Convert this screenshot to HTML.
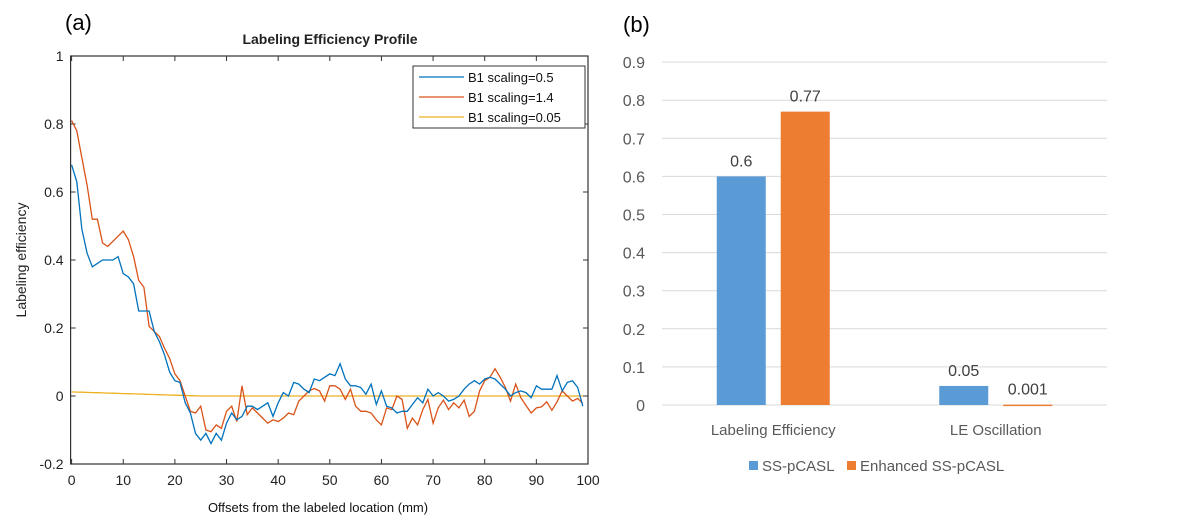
<!DOCTYPE html>
<html><head><meta charset="utf-8"><style>
body{margin:0;background:#fff;width:1192px;height:525px;overflow:hidden;font-family:"Liberation Sans",sans-serif}
svg{position:absolute;left:0;top:0}
</style></head><body>
<svg width="1192" height="525">
<g id="left"></g>
<g id="right"></g>
</svg>
<script>
const blue=[0.68,0.63,0.49,0.42,0.38,0.39,0.40,0.40,0.40,0.41,0.36,0.35,0.33,0.25,0.25,0.25,0.19,0.16,0.12,0.07,0.045,0.04,-0.02,-0.05,-0.11,-0.13,-0.11,-0.14,-0.11,-0.13,-0.08,-0.05,-0.07,-0.06,-0.03,-0.03,-0.04,-0.03,-0.02,-0.06,-0.02,0.01,0.0,0.04,0.035,0.02,0.01,0.05,0.045,0.055,0.065,0.06,0.095,0.05,0.03,0.03,0.025,0.005,0.035,-0.025,0.015,-0.03,-0.035,-0.05,-0.045,-0.045,-0.025,-0.005,-0.02,0.02,0.0,0.01,0.0,-0.015,-0.01,0.0,0.02,0.035,0.045,0.035,0.05,0.055,0.05,0.035,0.02,0.0,0.01,0.015,0.01,-0.005,0.03,0.02,0.02,0.02,0.06,0.015,0.04,0.045,0.025,-0.03];
const orange=[0.81,0.78,0.70,0.62,0.52,0.52,0.45,0.44,0.455,0.47,0.485,0.46,0.41,0.34,0.32,0.205,0.19,0.175,0.14,0.11,0.065,0.045,0.0,-0.045,-0.05,-0.03,-0.1,-0.105,-0.085,-0.095,-0.045,-0.03,-0.075,0.03,-0.055,-0.035,-0.05,-0.065,-0.08,-0.07,-0.075,-0.065,-0.05,-0.055,-0.015,0.0,0.015,0.022,0.015,-0.015,0.03,0.03,0.02,-0.01,0.02,-0.03,-0.045,-0.045,-0.05,-0.07,-0.085,-0.035,-0.04,0.0,-0.01,-0.095,-0.065,-0.085,-0.04,-0.01,-0.08,-0.035,-0.012,-0.04,-0.02,-0.035,-0.012,-0.06,-0.045,0.015,0.045,0.055,0.08,0.055,0.025,-0.015,0.035,-0.005,-0.028,-0.05,-0.035,-0.032,-0.017,-0.042,-0.017,0.015,0.0,-0.015,-0.007,-0.022];
const yellowStart=0.012, yellowDecayEnd=25;
const xTicks=[0,10,20,30,40,50,60,70,80,90,100];
const yTicks=[-0.2,0,0.2,0.4,0.6,0.8,1];
const legendLabels=["B1 scaling=0.5","B1 scaling=1.4","B1 scaling=0.05"];
const barCats=["Labeling Efficiency","LE Oscillation"];
const ssVals=[0.6,0.05];
const enhVals=[0.77,0.001];
const ssLabels=["0.6","0.05"];
const enhLabels=["0.77","0.001"];
const barTicks=[0,0.1,0.2,0.3,0.4,0.5,0.6,0.7,0.8,0.9];

const NS="http://www.w3.org/2000/svg";
function mk(p,tag,at,txt){const e=document.createElementNS(NS,tag);for(const k in at)e.setAttribute(k,at[k]);if(txt!==undefined)e.textContent=txt;p.appendChild(e);return e;}
const L=document.getElementById('left'),R=document.getElementById('right');
const X0=71.6,X1=588,Y0=56,Y1=464;
const xs=v=>X0+(X1-X0)*v/100, ys=v=>Y1-(Y1-Y0)*(v+0.2)/1.2;
let t;
t=mk(L,'text',{x:65,y:30,'font-size':22,fill:'#000'},'(a)');

t=mk(L,'text',{x:330,y:44,'font-size':14,'font-weight':'bold','text-anchor':'middle',fill:'#222'},'Labeling Efficiency Profile');

xTicks.forEach(v=>{const x=xs(v);mk(L,'line',{x1:x,x2:x,y1:Y1,y2:Y1-5,stroke:'#333'});mk(L,'line',{x1:x,x2:x,y1:Y0,y2:Y0+5,stroke:'#333'});
 t=mk(L,'text',{x:x,y:Y1+21,'font-size':14,'text-anchor':'middle',fill:'#222'},String(v));});
yTicks.forEach(v=>{const y=ys(v);mk(L,'line',{x1:X0-1,x2:X0+4,y1:y,y2:y,stroke:'#333'});mk(L,'line',{x1:X1,x2:X1-5,y1:y,y2:y,stroke:'#333'});
 t=mk(L,'text',{x:X0-8,y:y+5,'font-size':14,'text-anchor':'end',fill:'#222'},String(Math.round(v*10)/10));});
t=mk(L,'text',{x:0,y:0,'font-size':14,'text-anchor':'middle',fill:'#222',transform:'translate(26,260) rotate(-90)'},'Labeling efficiency');

t=mk(L,'text',{x:318,y:512,'font-size':13,'text-anchor':'middle',fill:'#111'},'Offsets from the labeled location (mm)');

function line(arr,col,name){const d=arr.map((v,i)=>(i?'L':'M')+xs(i).toFixed(1)+','+ys(v).toFixed(1)).join('');const p=mk(L,'path',{d:d,fill:'none',stroke:col,'stroke-width':1.3});}
const yellow=blue.map((_,i)=>i<yellowDecayEnd?yellowStart*(1-i/yellowDecayEnd):0);
line(yellow,'#edb120','line-b1-0-05');
line(orange,'#d95319','line-b1-1-4');
line(blue,'#0072bd','line-b1-0-5');
t=mk(L,'rect',{x:X0-1,y:Y0,width:X1-X0+1,height:Y1-Y0,fill:'none',stroke:'#333','stroke-width':1.2});
const lg=mk(L,'g',{});
mk(lg,'rect',{x:413,y:66,width:172,height:62,fill:'#fff',stroke:'#333'});
['#0072bd','#d95319','#edb120'].forEach((c,i)=>{const y=77+i*20;mk(lg,'line',{x1:419,x2:464,y1:y,y2:y,stroke:c,'stroke-width':1.3});
 t=mk(lg,'text',{x:468,y:y+5,'font-size':13,fill:'#111'},legendLabels[i]);});

// right
const bx0=662,bx1=1107,by=v=>405-v*381;
t=mk(R,'text',{x:623,y:32,'font-size':22,fill:'#000'},'(b)');
barTicks.forEach(v=>{const y=by(v);const g=mk(R,'line',{x1:bx0,x2:bx1,y1:y,y2:y,stroke:'#d9d9d9','stroke-width':1});
 t=mk(R,'text',{x:645,y:y+6,'font-size':16,'text-anchor':'end',fill:'#595959'},String(v));});
const catW=(bx1-bx0)/barCats.length,bw=49,gap=15;
barCats.forEach((c,i)=>{const cx=bx0+catW*(i+0.5);
 const b1=mk(R,'rect',{x:cx-gap/2-bw,y:by(ssVals[i]),width:bw,height:by(0)-by(ssVals[i]),fill:'#5b9bd5'});
 const b2=mk(R,'rect',{x:cx+gap/2,y:by(enhVals[i]),width:bw,height:Math.max(by(0)-by(enhVals[i]),1.5),fill:'#ed7d31'});
 t=mk(R,'text',{x:cx-gap/2-bw/2,y:by(ssVals[i])-10,'font-size':16,'text-anchor':'middle',fill:'#404040'},ssLabels[i]);
 t=mk(R,'text',{x:cx+gap/2+bw/2,y:by(enhVals[i])-10,'font-size':16,'text-anchor':'middle',fill:'#404040'},enhLabels[i]);
 t=mk(R,'text',{x:cx,y:435,'font-size':15,'text-anchor':'middle',fill:'#595959'},c);});
const rl=mk(R,'g',{});
mk(rl,'rect',{x:749,y:461,width:9,height:9,fill:'#5b9bd5'});
t=mk(rl,'text',{x:762,y:471,'font-size':15,fill:'#595959'},'SS-pCASL');
mk(rl,'rect',{x:847,y:461,width:9,height:9,fill:'#ed7d31'});
t=mk(rl,'text',{x:860,y:471,'font-size':15,fill:'#595959'},'Enhanced SS-pCASL');
</script>
</body></html>
